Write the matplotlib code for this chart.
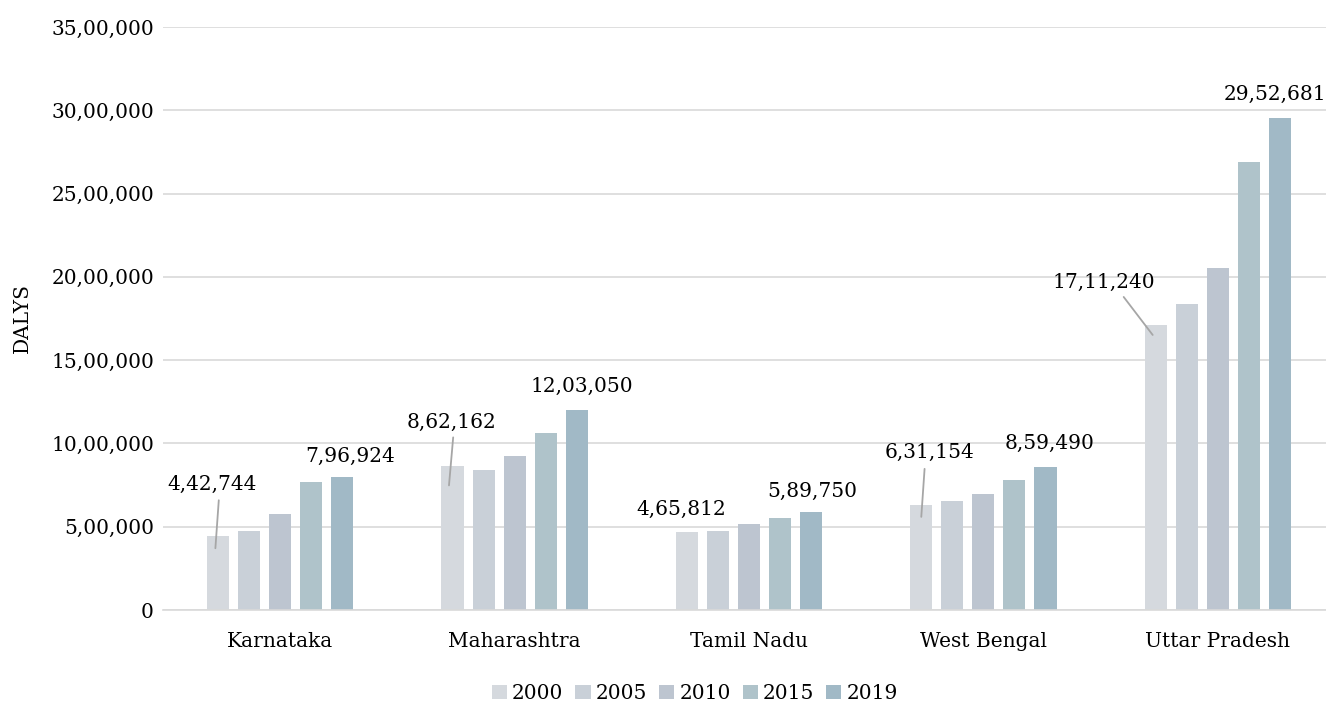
import numpy as np
import matplotlib
matplotlib.use("Agg")
import matplotlib.pyplot as plt
from matplotlib.ticker import FuncFormatter
from matplotlib.transforms import offset_copy

states = ["Karnataka", "Maharashtra", "Tamil Nadu", "West Bengal", "Uttar Pradesh"]
years = ["2000", "2005", "2010", "2015", "2019"]

dalys_2000 = [442744, 862162, 465812, 631154, 1711240]
dalys_2005 = [474000, 839000, 474000, 655000, 1836000]
dalys_2010 = [576000, 924000, 516000, 697000, 2052000]
dalys_2015 = [768000, 1064000, 555000, 781000, 2691000]
dalys_2019 = [796924, 1203050, 589750, 859490, 2952681]

colors = ["#d5d9de", "#c9d0d8", "#bdc5d0", "#afc3ca", "#a1b9c6"]


def indian_fmt(v, pos=None):
    # 12,34,567 style grouping
    s = str(int(round(v)))
    if len(s) <= 3:
        return s
    last3, rest = s[-3:], s[:-3]
    groups = []
    while len(rest) > 2:
        groups.insert(0, rest[-2:])
        rest = rest[:-2]
    if rest:
        groups.insert(0, rest)
    return ",".join(groups) + "," + last3


plt.rcParams["font.family"] = ["DejaVu Serif"]
FS = 14.5

fig = plt.figure(figsize=(13.26, 7.01), dpi=100)
ax = fig.add_axes([163 / 1326, 1 - 610 / 701, 1172 / 1326, 583 / 701])

series = [dalys_2000, dalys_2005, dalys_2010, dalys_2015, dalys_2019]
x = np.arange(len(states))
step = 0.1325
width = 0.094
bars = []
for i, (vals, c, yr) in enumerate(zip(series, colors, years)):
    bars.append(ax.bar(x + (i - 2) * step, vals, width, color=c, label=yr, zorder=2))

ax.set_xlim(-0.5, 4.5)
ax.set_ylim(0, 3500000)
ax.set_yticks(np.arange(0, 3500001, 500000))
ax.yaxis.set_major_formatter(FuncFormatter(indian_fmt))
ax.grid(axis="y", color="#d9d9d9", linewidth=1.2, zorder=0)
ax.set_xticks(x)
ax.set_xticklabels(states)
ax.tick_params(axis="both", length=0, labelsize=FS)
ax.tick_params(axis="y", pad=6.5)
ax.tick_params(axis="x", pad=16)
for s in ["top", "right", "left"]:
    ax.spines[s].set_visible(False)
ax.spines["bottom"].set_color("#d9d9d9")
ax.spines["bottom"].set_linewidth(1.2)

ax.set_ylabel("DALYS", fontsize=FS, labelpad=14)

# labels on the 2000 bars: text offset, leader start, leader end (pixels from bar top)
first_text = [(-6, 52), (-1, 44), (-6, 23), (8, 52), (-52, 43)]
lead_start = [(0.7, 36), (0.7, 29), None, (3.3, 36), (-32, 28)]
lead_end = [(-2.7, -12), (-3.5, -19), None, (0, -12), (-3, -10)]

for j in range(len(states)):
    rect = bars[0][j]
    cx = rect.get_x() + rect.get_width() / 2
    top = rect.get_height()
    ax.annotate(indian_fmt(top), xy=(cx, top), xytext=first_text[j],
                textcoords="offset pixels", ha="center", va="center", fontsize=FS)
    if lead_start[j] is not None:
        ex, ey = lead_end[j]
        sx, sy = lead_start[j]
        tr = offset_copy(ax.transData, fig=fig, x=ex, y=ey, units="dots")
        ax.annotate("", xy=(cx, top), xycoords=tr, xytext=(sx - ex, sy - ey),
                    textcoords="offset pixels",
                    arrowprops=dict(arrowstyle="-", color="#a6a6a6", lw=1.3,
                                    shrinkA=0, shrinkB=0))

# labels on the 2019 bars
last_text = [(8, 21), (5, 23), (1, 20), (4, 23), (-5, 24)]
for j in range(len(states)):
    rect = bars[4][j]
    cx = rect.get_x() + rect.get_width() / 2
    top = rect.get_height()
    ax.annotate(indian_fmt(top), xy=(cx, top), xytext=last_text[j],
                textcoords="offset pixels", ha="center", va="center", fontsize=FS)

fig.legend(loc="center", bbox_to_anchor=(0.524, 0.011), ncol=5,
           frameon=False, fontsize=FS, handlelength=0.75, handleheight=0.7,
           handletextpad=0.25, columnspacing=0.6)

fig.savefig("out.png", dpi=100)
